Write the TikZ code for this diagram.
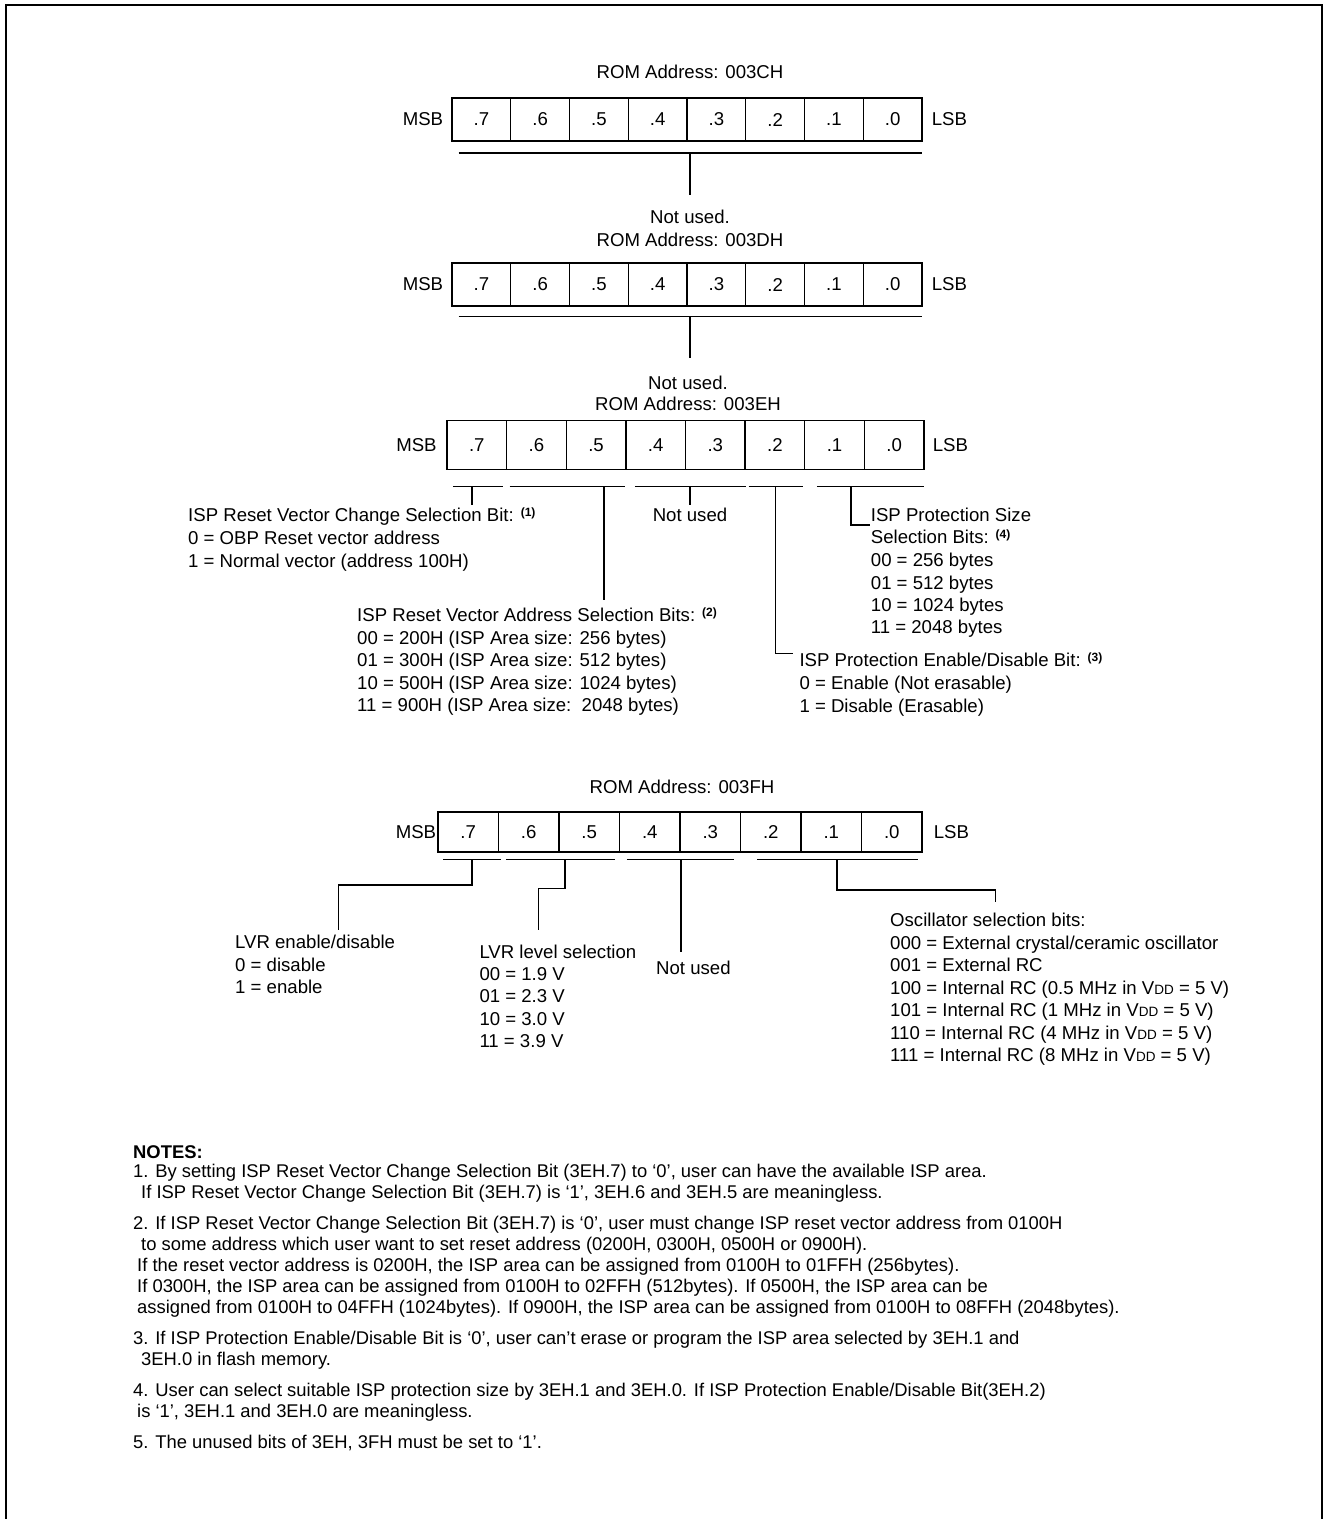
\documentclass[tikz,border=0pt]{standalone}
\usepackage{fontspec}
\setmainfont{Liberation Sans}
\usetikzlibrary{positioning}
\newcommand\dfont{\fontsize{18.6}{22.5}\selectfont}
\newcommand\nfont{\fontsize{18.4}{21}\selectfont}
\newcommand\refmark[1]{{\fontsize{12}{12}\selectfont\bfseries\raisebox{5.5pt}{(#1)}}}
\newcommand\vdd{V{\fontsize{13.5}{13.5}\selectfont DD}}
\newcommand\regcells[5]{% name, xL, w, yc, h
  \foreach \i in {0,...,7}{%
    \node[cell, minimum width=#3pt, minimum height=#5pt] (#1c\i) at ({#2+(7.5-\i)*#3}, #4) {.\i};
  }%
}
\tikzset{
  txt/.style={font=\dfont, inner sep=0pt, anchor=base west},
  ctxt/.style={font=\dfont, inner sep=0pt, anchor=base},
  lbl/.style={font=\dfont, inner sep=0pt},
  note/.style={font=\nfont, inner sep=0pt, anchor=base west},
  cell/.style={draw, line width=1.3pt, inner sep=0pt, font=\dfont},
  bar/.style={line width=1.3pt},
  frame/.style={line width=2pt},
}
\begin{document}
\begin{tikzpicture}[x=1pt,y=-1pt]
\useasboundingbox (0,0) rectangle (1323,1519);
\draw[frame] (6,1519) -- (6,5) -- (1322,5) -- (1322,1519);

% ---------- Register 003CH ----------
\node[ctxt] (r1t) at (690,78.2) {ROM Address: 003CH};
\regcells{r1}{452}{58.75}{119.5}{43}
\node[lbl, left=8pt of r1c7] (r1msb) {MSB};
\node[lbl, right=9pt of r1c0] (r1lsb) {LSB};
\coordinate (r1a) at (458.5,153);
\coordinate (r1b) at (922,153);
\coordinate (r1v) at (690,153);
\coordinate (r1e) at (690,195);
\draw[bar] (r1a) -- (r1b);
\draw[bar] (r1v) -- (r1e);
\node[ctxt] (r1nu) at (690,223.5) {Not used.};

% ---------- Register 003DH ----------
\node[ctxt] (r2t) at (690,246.5) {ROM Address: 003DH};
\regcells{r2}{452}{58.75}{284.5}{43}
\node[lbl, left=8pt of r2c7] (r2msb) {MSB};
\node[lbl, right=9pt of r2c0] (r2lsb) {LSB};
\coordinate (r2a) at (458.5,316.7);
\coordinate (r2b) at (922,316.7);
\coordinate (r2v) at (690,316.7);
\coordinate (r2e) at (690,358.3);
\draw[bar] (r2a) -- (r2b);
\draw[bar] (r2v) -- (r2e);
\node[ctxt] (r2nu) at (688,389.8) {Not used.};

% ---------- Register 003EH ----------
\node[ctxt] (r3t) at (688,410.8) {ROM Address: 003EH};
\regcells{r3}{447}{59.625}{445}{49}
\node[lbl, left=9.5pt of r3c7] (r3msb) {MSB};
\node[lbl, right=8pt of r3c0] (r3lsb) {LSB};
\draw[bar] (452.8,486.7) -- (502.6,486.7);
\draw[bar] (509.5,486.7) -- (625.2,486.7);
\draw[bar] (634.8,486.7) -- (745.9,486.7);
\draw[bar] (748.5,486.7) -- (803.4,486.7);
\draw[bar] (816.8,486.7) -- (924,486.7);

\node[txt] (r3b7a) at (188,521.5) {ISP Reset Vector Change Selection Bit: \refmark{1}};
\node[txt] (r3b7b) at (188,544.8) {0 = OBP Reset vector address};
\node[txt] (r3b7c) at (188,567) {1 = Normal vector (address 100H)};
\draw[bar] (472,486.7) -- (472,505);

\node[ctxt] (r3nu) at (690,521.5) {Not used};
\draw[bar] (690,486.7) -- (690,505);

\node[txt] (r3b6a) at (357,621.5) {ISP Reset Vector Address Selection Bits: \refmark{2}};
\node[txt] (r3b6b) at (357,644.5) {00 = 200H (ISP Area size: 256 bytes)};
\node[txt] (r3b6c) at (357,666.8) {01 = 300H (ISP Area size: 512 bytes)};
\node[txt] (r3b6d) at (357,689.1) {10 = 500H (ISP Area size: 1024 bytes)};
\node[txt] (r3b6e) at (357,711.4) {11 = 900H (ISP Area size:\ \ 2048 bytes)};
\draw[bar] (604,486.7) -- (604,600);

\node[txt] (r3b2a) at (799.3,666.5) {ISP Protection Enable/Disable Bit: \refmark{3}};
\node[txt] (r3b2b) at (799.3,689.5) {0 = Enable (Not erasable)};
\node[txt] (r3b2c) at (799.3,712.5) {1 = Disable (Erasable)};
\draw[bar] (775.8,486.7) -- (775.8,653.3) -- (793.3,653.3);

\node[txt] (r3b1a) at (870.7,521.5) {ISP Protection Size};
\node[txt] (r3b1b) at (870.7,543.5) {Selection Bits: \refmark{4}};
\node[txt] (r3b1c) at (870.7,566.5) {00 = 256 bytes};
\node[txt] (r3b1d) at (870.7,589) {01 = 512 bytes};
\node[txt] (r3b1e) at (870.7,611.5) {10 = 1024 bytes};
\node[txt] (r3b1f) at (870.7,633.8) {11 = 2048 bytes};
\draw[bar] (851,486.7) -- (851,525) -- (870,525);

% ---------- Register 003FH ----------
\node[ctxt] (r4t) at (682,793.2) {ROM Address: 003FH};
\regcells{r4}{438}{60.5}{832}{40}
\node[lbl, left=1pt of r4c7] (r4msb) {MSB};
\node[lbl, right=11pt of r4c0] (r4lsb) {LSB};
\draw[bar] (443.2,859.3) -- (500.6,859.3);
\draw[bar] (506.3,859.3) -- (615.4,859.3);
\draw[bar] (626.8,859.3) -- (734,859.3);
\draw[bar] (757,859.3) -- (917.7,859.3);

\draw[bar] (472,859.3) -- (472,885) -- (338.3,885) -- (338.3,930);
\node[txt] (r4b7a) at (235,948.2) {LVR enable/disable};
\node[txt] (r4b7b) at (235,971) {0 = disable};
\node[txt] (r4b7c) at (235,993.2) {1 = enable};

\draw[bar] (565,859.3) -- (565,888.3) -- (538.3,888.3) -- (538.3,930);
\node[txt] (r4b6a) at (479.3,958.2) {LVR level selection};
\node[txt] (r4b6b) at (479.3,980.5) {00 = 1.9 V};
\node[txt] (r4b6c) at (479.3,1002.8) {01 = 2.3 V};
\node[txt] (r4b6d) at (479.3,1025.1) {10 = 3.0 V};
\node[txt] (r4b6e) at (479.3,1047.4) {11 = 3.9 V};

\draw[bar] (681,859.3) -- (681,951.7);
\node[txt] (r4nu) at (656,974.8) {Not used};

\draw[bar] (837,859.3) -- (837,890) -- (995.7,890) -- (995.7,901.7);
\node[txt] (r4b2a) at (890,926.5) {Oscillator selection bits:};
\node[txt] (r4b2b) at (890,949) {000 = External crystal/ceramic oscillator};
\node[txt] (r4b2c) at (890,971.5) {001 = External RC};
\node[txt] (r4b2d) at (890,994) {100 = Internal RC (0.5 MHz in \vdd{} = 5 V)};
\node[txt] (r4b2e) at (890,1016.5) {101 = Internal RC (1 MHz in \vdd{} = 5 V)};
\node[txt] (r4b2f) at (890,1039) {110 = Internal RC (4 MHz in \vdd{} = 5 V)};
\node[txt] (r4b2g) at (890,1061.5) {111 = Internal RC (8 MHz in \vdd{} = 5 V)};

% ---------- Notes ----------
\node[note, font=\nfont\bfseries] (nh) at (133,1158) {NOTES:};
\node[note] (n1a) at (133,1177.5) {1. By setting ISP Reset Vector Change Selection Bit (3EH.7) to ‘0’, user can have the available ISP area.};
\node[note] (n1b) at (141,1198.5) {If ISP Reset Vector Change Selection Bit (3EH.7) is ‘1’, 3EH.6 and 3EH.5 are meaningless.};
\node[note] (n2a) at (133,1229.5) {2. If ISP Reset Vector Change Selection Bit (3EH.7) is ‘0’, user must change ISP reset vector address from 0100H};
\node[note] (n2b) at (141,1250.5) {to some address which user want to set reset address (0200H, 0300H, 0500H or 0900H).};
\node[note] (n2c) at (137,1271.5) {If the reset vector address is 0200H, the ISP area can be assigned from 0100H to 01FFH (256bytes).};
\node[note] (n2d) at (137,1292.5) {If 0300H, the ISP area can be assigned from 0100H to 02FFH (512bytes). If 0500H, the ISP area can be};
\node[note] (n2e) at (137,1313.5) {assigned from 0100H to 04FFH (1024bytes). If 0900H, the ISP area can be assigned from 0100H to 08FFH (2048bytes).};
\node[note] (n3a) at (133,1344.5) {3. If ISP Protection Enable/Disable Bit is ‘0’, user can’t erase or program the ISP area selected by 3EH.1 and};
\node[note] (n3b) at (141,1365.5) {3EH.0 in flash memory.};
\node[note] (n4a) at (133,1396.5) {4. User can select suitable ISP protection size by 3EH.1 and 3EH.0. If ISP Protection Enable/Disable Bit(3EH.2)};
\node[note] (n4b) at (137,1417.5) {is ‘1’, 3EH.1 and 3EH.0 are meaningless.};
\node[note] (n5) at (133,1448.5) {5. The unused bits of 3EH, 3FH must be set to ‘1’.};
\end{tikzpicture}
\end{document}
